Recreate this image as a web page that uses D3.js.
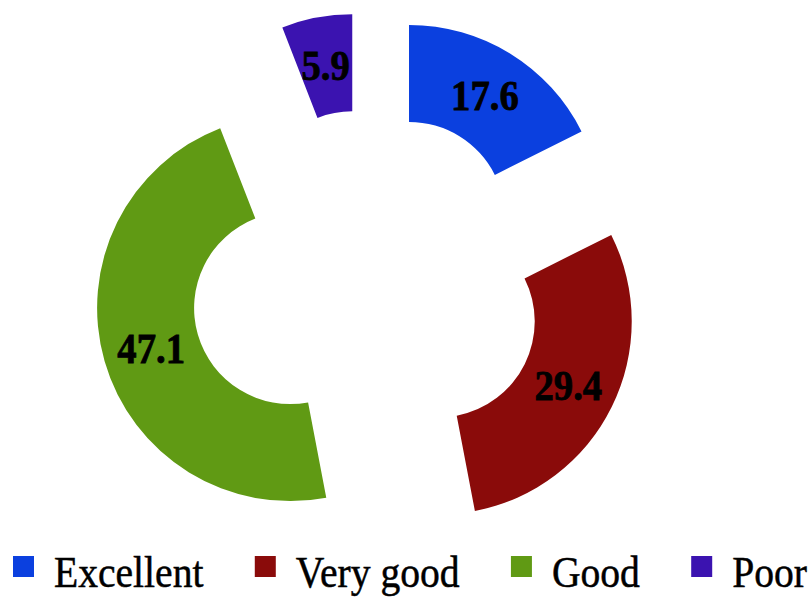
<!DOCTYPE html>
<html>
<head>
<meta charset="utf-8">
<script src="https://cdn.jsdelivr.net/npm/d3@7"></script>
<style>
  body { margin: 0; background: #fff; }
  svg { display: block; }
  text { font-family: "Liberation Serif", "Times New Roman", serif; }
</style>
</head>
<body>
<svg id="chart" width="811" height="600"></svg>
<script>
// rating shares (%)
const categories = ['Excellent', 'Very good', 'Good', 'Poor'];
const values = [17.6, 29.4, 47.1, 5.9];
const labels = ['17.6', '29.4', '47.1', '5.9'];
const colors = ['#0b40df', '#8a0b0a', '#609a14', '#3b13b0'];

let svg = d3.select('#chart'),
  width = +svg.attr('width');

let cx = 367, cy = 286,
  outerR = 193, innerR = 96,
  explode = 80,
  squeeze = 0.9; // the printed type is a bit narrow

let pie = d3.pie().sort(null).value(function(d) { return d; });
let arc = d3.arc().innerRadius(innerR).outerRadius(outerR);

let slices = pie(values);

let g = svg.append('g')
  .attr('transform', 'translate(' + cx + ',' + cy + ')');

// each slice pushed out along its middle angle
function offset(d) {
  let a = (d.startAngle + d.endAngle) / 2;
  return [Math.sin(a) * explode, -Math.cos(a) * explode];
}

let slice = g.selectAll('.slice')
  .data(slices)
  .enter().append('g')
  .attr('class', 'slice')
  .attr('transform', function(d) {
    let o = offset(d);
    return 'translate(' + o[0] + ',' + o[1] + ')';
  });

slice.append('path')
  .attr('d', arc)
  .attr('fill', function(d, i) { return colors[i]; });

slice.append('text')
  .attr('transform', function(d) {
    return 'translate(' + arc.centroid(d) + ') scale(' + squeeze + ',1)';
  })
  .attr('text-anchor', 'middle')
  .attr('dy', '0.35em')
  .attr('font-size', 43)
  .attr('font-weight', 'bold')
  .attr('fill', '#000')
  .attr('stroke', '#000')
  .attr('stroke-width', 0.8)
  .text(function(d, i) { return labels[i]; });

// legend, laid out left to right using measured text widths
let legend = svg.append('g').attr('class', 'legend');
let baseY = 587, box = 21, boxGap = 20, startX = 13;

let items = legend.selectAll('.item')
  .data(categories)
  .enter().append('g')
  .attr('class', 'item');

items.append('rect')
  .attr('width', box)
  .attr('height', box)
  .attr('y', baseY - 31)
  .attr('fill', function(d, i) { return colors[i]; });

items.append('text')
  .attr('transform', 'translate(' + (box + boxGap) + ',' + baseY + ') scale(' + squeeze + ',1)')
  .attr('font-size', 44)
  .attr('fill', '#000')
  .attr('stroke', '#000')
  .attr('stroke-width', 0.5)
  .text(function(d) { return d; });

let widths = [];
items.select('text').each(function() { widths.push(this.getComputedTextLength() * squeeze); });
let used = d3.sum(widths) + categories.length * (box + boxGap);
let gap = (width - 4 - startX - used) / (categories.length - 1);

let x = startX;
items.attr('transform', function(d, i) {
  let t = 'translate(' + x + ',0)';
  x += box + boxGap + widths[i] + gap;
  return t;
});
</script>
</body>
</html>
